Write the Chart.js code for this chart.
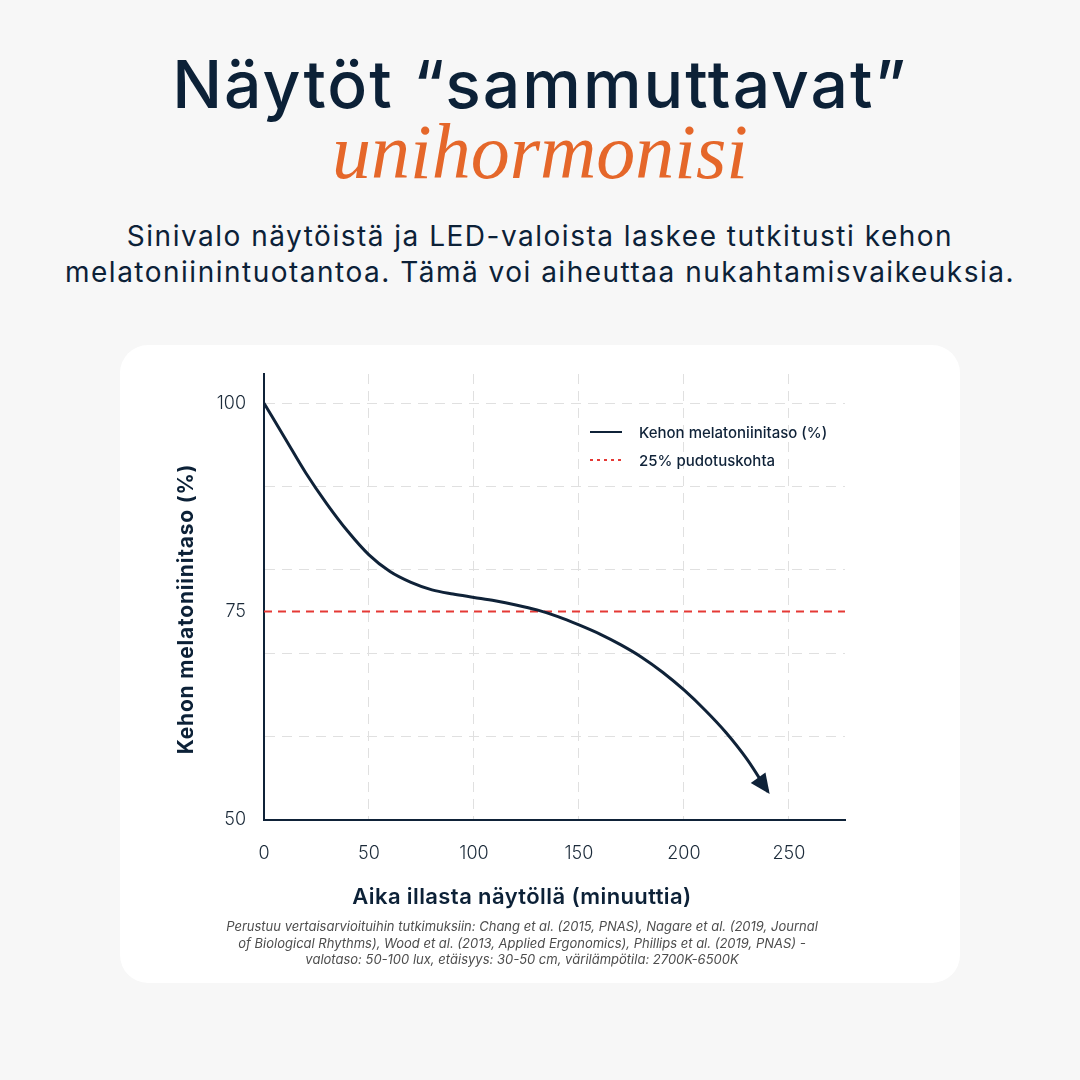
<!DOCTYPE html>
<html>
<head>
<meta charset="utf-8">
<script src="https://cdn.jsdelivr.net/npm/chart.js@4.4.1/dist/chart.umd.min.js"></script>
<style>
html, body { margin: 0; padding: 0; }
body {
    width: 1080px; height: 1080px; position: relative; overflow: hidden;
    background: #f7f7f7; color: #0c2137;
    font-family: Inter, "Noto Sans", sans-serif;
}
.center { position: absolute; text-align: center; white-space: nowrap; }
#otsikko { left: 0; width: 1080px; top: 51px; font-size: 66px; line-height: 66px; font-weight: 500; letter-spacing: 2px; }
#korostus { left: 0; width: 1080px; top: 113px; font-size: 78px; line-height: 78px;
    font-family: "Liberation Serif", serif; font-style: italic; color: #e5672a; }
#ingressi { left: 0; width: 1080px; top: 218px; font-size: 28px; line-height: 36px; font-weight: 400; letter-spacing: 1.5px; }
#kortti { position: absolute; left: 120px; top: 345px; width: 840px; height: 638px;
    background: #ffffff; border-radius: 28px; }
#kaavio { position: absolute; left: 120px; top: 345px; width: 840px; height: 540px; }
#xotsikko { left: 122px; width: 800px; top: 883px; font-size: 22px; line-height: 26px; font-weight: 600; letter-spacing: 0.4px; }
#yotsikko { left: 36px; width: 300px; top: 596px; font-size: 21px; line-height: 26px; font-weight: 700;
    letter-spacing: 0.8px; transform: rotate(-90deg); }
#lahteet { left: 122px; width: 800px; top: 918px; font-size: 13px; line-height: 16.5px;
    font-style: italic; color: #4d4d4d; }
</style>
</head>
<body>
<div id="otsikko" class="center">Näytöt “sammuttavat”</div>
<div id="korostus" class="center">unihormonisi</div>
<div id="ingressi" class="center">Sinivalo näytöistä ja LED-valoista laskee tutkitusti kehon<br>melatoniinintuotantoa. Tämä voi aiheuttaa nukahtamisvaikeuksia.</div>
<div id="kortti"></div>
<canvas id="kaavio" width="840" height="540"></canvas>
<div id="yotsikko" class="center">Kehon melatoniinitaso (%)</div>
<div id="xotsikko" class="center">Aika illasta näytöllä (minuuttia)</div>
<div id="lahteet" class="center">Perustuu vertaisarvioituihin tutkimuksiin: Chang et al. (2015, PNAS), Nagare et al. (2019, Journal<br>of Biological Rhythms), Wood et al. (2013, Applied Ergonomics), Phillips et al. (2019, PNAS) -<br>valotaso: 50-100 lux, etäisyys: 30-50 cm, värilämpötila: 2700K-6500K</div>

<script>
// aika (min) ja melatoniinitaso (%)
const minuutit = [0, 10, 20, 30, 40, 50, 60, 70, 80, 90, 100, 110, 120, 130, 140, 150, 160, 170, 180, 190, 200, 210, 220, 230, 240];
const melatoniini = [100, 95.8, 91.6, 87.9, 84.6, 81.8, 79.8, 78.5, 77.6, 77.1, 76.7, 76.3, 75.8, 75.2, 74.4, 73.4, 72.3, 71.0, 69.5, 67.7, 65.6, 63.2, 60.5, 57.3, 53.4];
const pudotusRaja = 75;
const xTicks = [0, 50, 100, 150, 200, 250];
const yGrid = [50, 60, 70, 75, 80, 90, 100];
const yLabels = [50, 75, 100];

const NAVY = '#0f2238';
const RED = '#e53935';
const xMax = 276.7;

const nuolenKarki = {
    id: 'nuolenKarki',
    afterDatasetsDraw(chart) {
        const pts = chart.getDatasetMeta(0).data;
        if (pts.length < 3) return;
        const a = pts[pts.length - 1], b = pts[pts.length - 3];
        const ang = Math.atan2(a.y - b.y, a.x - b.x);
        const ctx = chart.ctx;
        const len = 20, half = 9;
        const tipX = a.x + Math.cos(ang) * 3, tipY = a.y + Math.sin(ang) * 3;
        ctx.save();
        ctx.fillStyle = NAVY;
        ctx.beginPath();
        ctx.moveTo(tipX, tipY);
        ctx.lineTo(tipX - Math.cos(ang) * len - Math.sin(ang) * half, tipY - Math.sin(ang) * len + Math.cos(ang) * half);
        ctx.lineTo(tipX - Math.cos(ang) * len + Math.sin(ang) * half, tipY - Math.sin(ang) * len - Math.cos(ang) * half);
        ctx.closePath();
        ctx.fill();
        ctx.restore();
    }
};

const selite = {
    id: 'selite',
    afterDraw(chart) {
        const ctx = chart.ctx;
        const area = chart.chartArea;
        const x0 = area.left + 326, x1 = area.left + 358, tx = area.left + 375;
        chart.data.datasets.forEach((ds, i) => {
            const y = area.top + 58 + i * 28;
            ctx.save();
            ctx.strokeStyle = ds.borderColor;
            ctx.lineWidth = 2;
            ctx.setLineDash(i === 0 ? [] : [3, 4]);
            ctx.beginPath();
            ctx.moveTo(x0, y);
            ctx.lineTo(x1, y);
            ctx.stroke();
            ctx.setLineDash([]);
            ctx.fillStyle = NAVY;
            ctx.font = '500 15px Inter, "Noto Sans", sans-serif';
            ctx.textBaseline = 'middle';
            ctx.fillText(ds.label, tx, y + 1);
            ctx.restore();
        });
    }
};

new Chart(document.getElementById('kaavio'), {
    type: 'line',
    data: {
        datasets: [{
            label: 'Kehon melatoniinitaso (%)',
            data: minuutit.map((m, i) => ({ x: m, y: melatoniini[i] })),
            borderColor: NAVY,
            borderWidth: 3,
            pointRadius: 0,
            cubicInterpolationMode: 'monotone',
            fill: false
        }, {
            label: '25% pudotuskohta',
            data: [{ x: 0, y: pudotusRaja }, { x: xMax, y: pudotusRaja }],
            borderColor: RED,
            borderWidth: 2,
            borderDash: [8, 6],
            pointRadius: 0,
            fill: false
        }]
    },
    options: {
        responsive: false,
        animation: false,
        layout: { padding: { left: 0, top: 29, right: 115, bottom: 0 } },
        plugins: {
            legend: { display: false },
            tooltip: { enabled: false }
        },
        scales: {
            x: {
                type: 'linear',
                min: 0,
                max: xMax,
                afterBuildTicks: (scale) => { scale.ticks = xTicks.map(v => ({ value: v })); },
                afterFit: (scale) => { scale.height = 65; },
                ticks: {
                    color: '#1c2b3a',
                    padding: 23,
                    font: { family: 'Inter, "Noto Sans", sans-serif', size: 18, weight: 300 }
                },
                grid: {
                    drawTicks: false,
                    lineWidth: 1,
                    color: (c) => c.tick && c.tick.value === 0 ? 'rgba(0,0,0,0)' : '#e0e0e0'
                },
                border: { color: NAVY, width: 2, dash: [10, 7] }
            },
            y: {
                type: 'linear',
                min: 50,
                max: 103.5,
                afterBuildTicks: (scale) => { scale.ticks = yGrid.map(v => ({ value: v })); },
                afterFit: (scale) => { scale.width = 144; },
                ticks: {
                    color: '#1c2b3a',
                    padding: 18,
                    font: { family: 'Inter, "Noto Sans", sans-serif', size: 18, weight: 300 },
                    callback: (v) => yLabels.includes(v) ? String(v) : ''
                },
                grid: {
                    drawTicks: false,
                    lineWidth: 1,
                    color: (c) => (c.tick && (c.tick.value === 50 || c.tick.value === 75)) ? 'rgba(0,0,0,0)' : '#e0e0e0'
                },
                border: { color: NAVY, width: 2, dash: [10, 7] }
            }
        }
    },
    plugins: [nuolenKarki, selite]
});
</script>
</body>
</html>
